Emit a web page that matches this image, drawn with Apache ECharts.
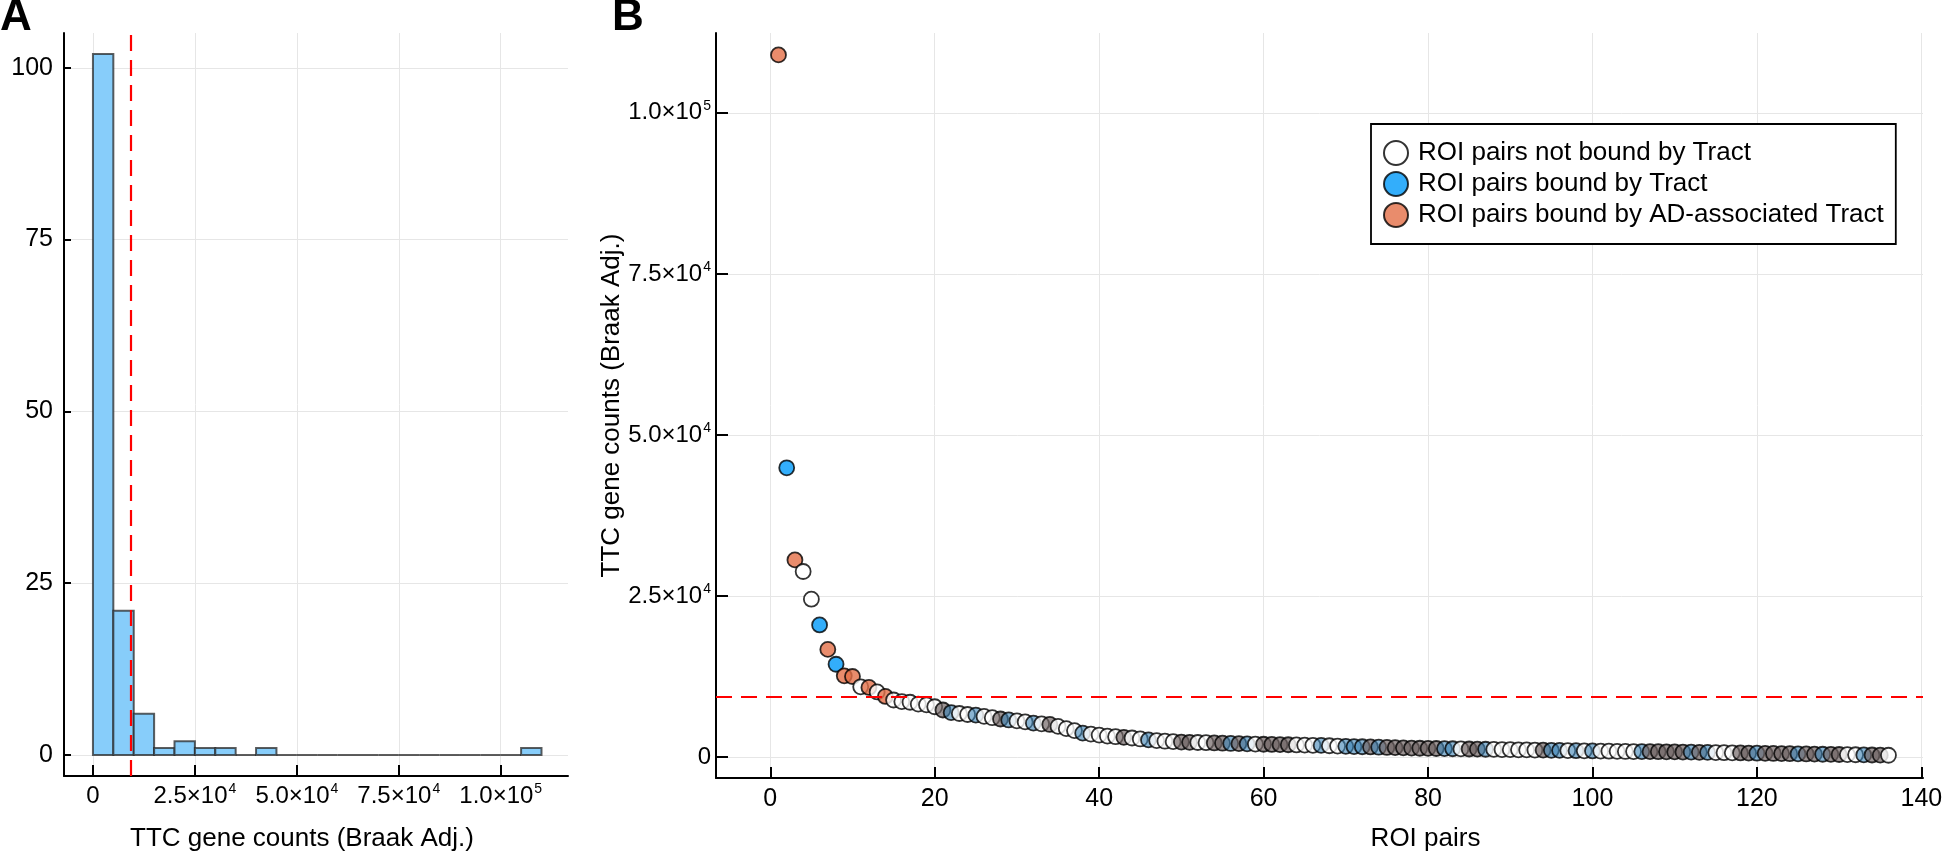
<!DOCTYPE html>
<html><head><meta charset="utf-8">
<script src="https://cdn.jsdelivr.net/npm/echarts@6/dist/echarts.min.js"></script>
<style>html,body{margin:0;padding:0;background:#fff}#c{width:1946px;height:857px}</style>
</head><body><div id="c"></div><script>
// ---- data ----
// B: TTC gene counts (Braak adj.) per ROI pair, sorted descending (ROI pair 1..136)
const ttcCounts = [
 109000, 44900, 30600, 28800, 24500, 20500, 16700, 14400, 12600, 12500,
 10900, 10800, 10100, 9400, 8850, 8600, 8500, 8200, 8100, 7800,
 7300, 6900, 6750, 6600, 6500, 6300, 6100, 5900, 5750, 5600,
 5450, 5250, 5150, 5050, 4750, 4400, 4100, 3700, 3550, 3400,
 3250, 3150, 3050, 2950, 2800, 2650, 2550, 2450, 2380, 2320,
 2280, 2250, 2220, 2180, 2140, 2100, 2070, 2040, 2010, 1980,
 1950, 1920, 1900, 1870, 1850, 1820, 1800, 1750, 1700, 1650,
 1620, 1590, 1560, 1520, 1480, 1450, 1420, 1390, 1360, 1340,
 1320, 1300, 1280, 1260, 1240, 1220, 1200, 1180, 1160, 1140,
 1120, 1100, 1080, 1060, 1040, 1020, 1000, 980, 960, 940,
 920, 900, 880, 860, 850, 840, 830, 820, 810, 790,
 770, 750, 730, 710, 690, 670, 650, 630, 610, 590,
 570, 550, 530, 510, 490, 470, 450, 430, 410, 390,
 370, 350, 330, 310, 290, 270
];
// class of each ROI pair: W = not bound, B = bound by tract, O = bound by AD-associated tract,
// b / g = faded markers in the tail of the reference
const pairClass = [
 'O','B','O','W','W','B','O','B','O','O',
 'W','O','W','O','W','W','W','W','W','W',
 'g','b','W','W','b','W','W','g','b','W',
 'W','b','W','g','W','W','W','b','W','W',
 'W','W','g','W','W','b','W','W','W','g',
 'g','W','W','g','g','b','g','b','W','g',
 'g','g','g','W','W','W','b','W','W','b',
 'b','b','g','b','g','g','g','g','g','g',
 'g','b','b','W','g','g','b','W','W','W',
 'W','W','W','g','b','b','W','b','W','b',
 'W','W','W','W','W','b','g','g','g','g',
 'g','b','g','b','W','W','W','g','g','b',
 'g','g','g','g','b','g','g','b','g','g',
 'W','W','b','g','g','W'
];
// A: histogram of the same counts (bin width 5000 starting at 0)
const histBinWidth = 5000;
const histCounts = [102, 21, 6, 1, 2, 1, 1, 0, 1, 0, 0, 0, 0, 0, 0, 0, 0, 0, 0, 0, 0, 1];
const threshold = 9300;
const histXTicks = [0, 25000, 50000, 75000, 100000];
const histYTicks = [0, 25, 50, 75, 100];
const scatterXTicks = [0, 20, 40, 60, 80, 100, 120, 140];
const scatterYTicks = [0, 25000, 50000, 75000, 100000];
const legendNames = ['ROI pairs not bound by Tract', 'ROI pairs bound by Tract', 'ROI pairs bound by AD-associated Tract'];

// ---- styles ----
const FONT = 'Liberation Sans';
const TICK_FS = 25;
const classColor = {
  W: '#ffffff', B: '#009AFA', O: '#E36F47',
  b: 'rgba(60,130,180,0.75)', g: 'rgba(110,98,98,0.85)'
};
const gridColor = '#e6e6e6';
function sciLabel(v) {
  if (v === 0) return '{m|0}';
  const e = Math.floor(Math.log10(v));
  const m = v / Math.pow(10, e);
  return '{m|' + m.toFixed(1) + '×10}{e|' + e + '}';
}
const rich = {
  m: {fontFamily: FONT, fontSize: 24, color: '#000', lineHeight: 28},
  e: {fontFamily: FONT, fontSize: 14, color: '#000', verticalAlign: 'top', lineHeight: 28, padding: [0, 0, 12, 1]}
};
function axisCommon(extra) {
  return Object.assign({
    axisLine: {show: true, onZero: false, lineStyle: {color: '#000', width: 2}},
    splitLine: {show: true, lineStyle: {color: gridColor, width: 1}},
    nameMoveOverlap: false,
    nameTextStyle: {fontFamily: FONT, fontSize: 26, color: '#000'}
  }, extra);
}
function tick(len, vals) {
  return {show: true, inside: true, length: len, customValues: vals, lineStyle: {color: '#000', width: 2}};
}

const chart = echarts.init(document.getElementById('c'), null, {renderer: 'canvas'});

const histData = histCounts.map((c, i) => [i * histBinWidth, (i + 1) * histBinWidth, c]);
const scatterData = ttcCounts.map((v, i) => ({
  value: [i + 1, v],
  itemStyle: {color: classColor[pairClass[i]], borderColor: '#000', borderWidth: 1.8}
}));
const dash = {color: '#ff0000', width: 2.2, type: [16, 9]};

const option = {
  backgroundColor: '#fff',
  animation: false,
  title: [
    {text: 'A', left: 0, top: -4, padding: 0, textStyle: {fontFamily: FONT, fontWeight: 'bold', fontSize: 44, color: '#000'}},
    {text: 'B', left: 612, top: -4, padding: 0, textStyle: {fontFamily: FONT, fontWeight: 'bold', fontSize: 44, color: '#000'}}
  ],
  grid: [
    {left: 64, right: 1378, top: 33, bottom: 79, containLabel: false},
    {left: 716, right: 23, top: 33, bottom: 79, containLabel: false}
  ],
  xAxis: [
    axisCommon({
      gridIndex: 0, type: 'value', min: -7100, max: 116500,
      name: 'TTC gene counts (Braak Adj.)', nameLocation: 'middle', nameGap: 50,
      nameTextStyle: {fontFamily: FONT, fontSize: 26, color: '#000', padding: [0, 28, 0, 0]},
      axisTick: tick(11, histXTicks),
      axisLabel: {customValues: histXTicks, formatter: sciLabel, rich: rich, margin: 6}
    }),
    axisCommon({
      gridIndex: 1, type: 'value', min: -6.6, max: 140.2,
      name: 'ROI pairs', nameLocation: 'middle', nameGap: 48,
      nameTextStyle: {fontFamily: FONT, fontSize: 26, color: '#000', padding: [0, 0, 0, 212]},
      axisTick: tick(11, scatterXTicks),
      axisLabel: {customValues: scatterXTicks, fontFamily: FONT, fontSize: TICK_FS, color: '#000', margin: 9}
    })
  ],
  yAxis: [
    axisCommon({
      gridIndex: 0, type: 'value', min: -3.06, max: 105.06,
      axisTick: tick(7, histYTicks),
      axisLabel: {customValues: histYTicks, fontFamily: FONT, fontSize: TICK_FS, color: '#000', margin: 11}
    }),
    axisCommon({
      gridIndex: 1, type: 'value', min: -3260, max: 112400,
      name: 'TTC gene counts (Braak Adj.)', nameLocation: 'middle', nameGap: 91, nameRotate: 90,
      nameTextStyle: {fontFamily: FONT, fontSize: 26, color: '#000'},
      axisTick: tick(12, scatterYTicks),
      axisLabel: {customValues: scatterYTicks, formatter: sciLabel, rich: rich, margin: 5}
    })
  ],
  legend: {
    show: true, orient: 'vertical', left: 1371, top: 124,
    data: legendNames, icon: 'circle', itemWidth: 24, itemHeight: 24, itemGap: 5,
    padding: [16, 12, 16, 12], backgroundColor: '#fff', borderColor: '#000', borderWidth: 1.8, borderRadius: 0,
    textStyle: {fontFamily: FONT, fontSize: 26, color: '#000', padding: [0, 0, 0, 5]}
  },
  series: [
    {
      type: 'custom', name: 'hist', xAxisIndex: 0, yAxisIndex: 0, z: 3,
      data: histData,
      renderItem: function (params, api) {
        const p0 = api.coord([api.value(0), 0]);
        const p1 = api.coord([api.value(1), api.value(2)]);
        return {
          type: 'rect',
          shape: {x: p0[0], y: p1[1], width: p1[0] - p0[0], height: p0[1] - p1[1]},
          style: {fill: '#87CDFA', stroke: 'rgba(40,40,40,0.75)', lineWidth: 2}
        };
      },
      markLine: {silent: true, symbol: 'none', z: 5, label: {show: false}, lineStyle: dash, data: [{xAxis: threshold}]}
    },
    {
      type: 'scatter', name: legendNames[0], xAxisIndex: 1, yAxisIndex: 1, data: [], z: 1,
      itemStyle: {color: classColor.W, borderColor: '#000', borderWidth: 1.8},
      markLine: {silent: true, symbol: 'none', label: {show: false}, lineStyle: dash, data: [{yAxis: threshold}]}
    },
    {type: 'scatter', name: legendNames[1], xAxisIndex: 1, yAxisIndex: 1, data: [], itemStyle: {color: classColor.B, borderColor: '#000', borderWidth: 1.8}},
    {type: 'scatter', name: legendNames[2], xAxisIndex: 1, yAxisIndex: 1, data: [], itemStyle: {color: classColor.O, borderColor: '#000', borderWidth: 1.8}},
    {
      type: 'scatter', name: 'points', xAxisIndex: 1, yAxisIndex: 1, z: 4,
      symbol: 'circle', symbolSize: 15, data: scatterData
    }
  ]
};
chart.setOption(option);
</script></body></html>
